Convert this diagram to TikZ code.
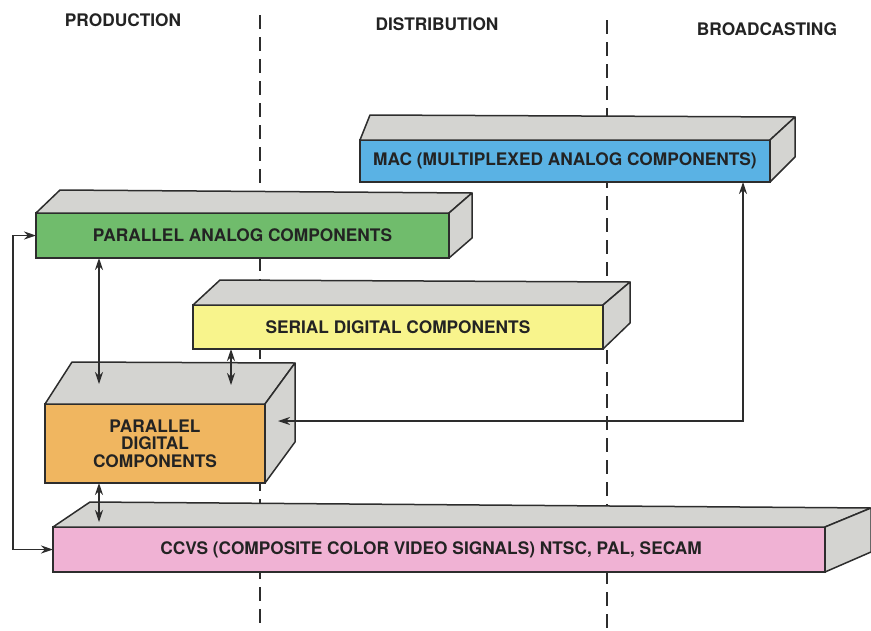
\documentclass[tikz,border=0pt]{standalone}
\usepackage{fontspec}
\setmainfont{TeX Gyre Heros}
\usepackage{tikz}
\usetikzlibrary{arrows.meta, positioning, calc}

\definecolor{edge}{RGB}{45,45,45}
\definecolor{ink}{RGB}{35,35,35}
\definecolor{facegray}{RGB}{212,212,209}
\definecolor{macblue}{RGB}{90,178,228}
\definecolor{analoggreen}{RGB}{112,188,108}
\definecolor{serialyellow}{RGB}{248,244,140}
\definecolor{digitalorange}{RGB}{240,182,96}
\definecolor{ccvspink}{RGB}{240,178,212}

\begin{document}
\begin{tikzpicture}[x=1pt, y=-1pt, >={Stealth[length=12pt, width=8pt]},
  face/.style={draw=edge, line width=1.5pt, inner sep=0pt, outer sep=0pt, text=ink, align=center,
    font=\fontsize{17.3}{17.5}\selectfont\bfseries},
  side/.style={draw=edge, line width=1.5pt, fill=facegray, line join=round},
  hdr/.style={text=ink, font=\fontsize{17.3}{18}\selectfont\bfseries},
  divider/.style={draw=edge, line width=1.1pt, dash pattern=on 14pt off 8pt},
  link/.style={<->, draw=edge, line width=1.2pt}]
  \useasboundingbox (0,0) rectangle (871,630);

  % Headers
  \node[hdr] (prod) at (123,20) {PRODUCTION};
  \node[hdr] (dist) at (437,24) {DISTRIBUTION};
  \node[hdr] (bcast) at (767,29) {BROADCASTING};

  % Dividers
  \draw[divider] (260,15) -- (260,630);
  \draw[divider] (607,20) -- (607,630);

  % MAC
  \node[face, fill=macblue, minimum width=410pt, minimum height=42pt] (mac) at (565,161) {MAC (MULTIPLEXED ANALOG COMPONENTS)};
  \filldraw[side] (mac.north west) -- ++(10,-25) -- ++(425,2) -- (mac.north east) -- cycle;
  \filldraw[side] (mac.north east) -- ++(25,-23) -- ++(0,40) -- (mac.south east) -- cycle;

  % Parallel analog
  \node[face, fill=analoggreen, minimum width=413pt, minimum height=45pt] (green) at (242.5,235.5) {PARALLEL ANALOG COMPONENTS};
  \filldraw[side] (green.north west) -- ++(24,-23) -- ++(412,3) -- (green.north east) -- cycle;
  \filldraw[side] (green.north east) -- ++(23,-20) -- ++(0,45) -- (green.south east) -- cycle;

  % Serial digital
  \node[face, fill=serialyellow, minimum width=410pt, minimum height=44pt] (yellow) at (398,327) {SERIAL DIGITAL COMPONENTS};
  \filldraw[side] (yellow.north west) -- ++(27,-25) -- ++(410,2) -- (yellow.north east) -- cycle;
  \filldraw[side] (yellow.north east) -- ++(27,-23) -- ++(0,41) -- (yellow.south east) -- cycle;

  % Parallel digital
  \node[face, fill=digitalorange, minimum width=220pt, minimum height=79pt] (orange) at (155,443.5) {PARALLEL\\DIGITAL\\COMPONENTS};
  \filldraw[side] (orange.north west) -- ++(27,-42) -- ++(223,1) -- (orange.north east) -- cycle;
  \filldraw[side] (orange.north east) -- ++(30,-41) -- ++(0,79) -- (orange.south east) -- cycle;

  % CCVS
  \node[face, fill=ccvspink, minimum width=772pt, minimum height=45pt] (pink) at (439,549.5) {CCVS (COMPOSITE COLOR VIDEO SIGNALS) NTSC, PAL, SECAM\hspace*{16pt}};
  \filldraw[side] (pink.north west) -- ++(37,-25) -- ++(781,6) -- (pink.north east) -- cycle;
  \filldraw[side] (pink.north east) -- ++(46,-19) -- ++(0,44) -- (pink.south east) -- cycle;

  % Links
  \coordinate (otop1) at (99,384);
  \coordinate (otop2) at (231,385);
  \coordinate (ptop) at (99,522);
  \coordinate (oside) at (278,421);
  \draw[link] (green.west) -- ++(-23,0) |- (pink.west);
  \draw[link] (green.south -| otop1) -- (otop1);
  \draw[link] (yellow.south -| otop2) -- (otop2);
  \draw[link] (orange.south -| ptop) -- (ptop);
  \draw[link] (oside) -| ($(mac.south east)+(-27,0)$);
\end{tikzpicture}
\end{document}
